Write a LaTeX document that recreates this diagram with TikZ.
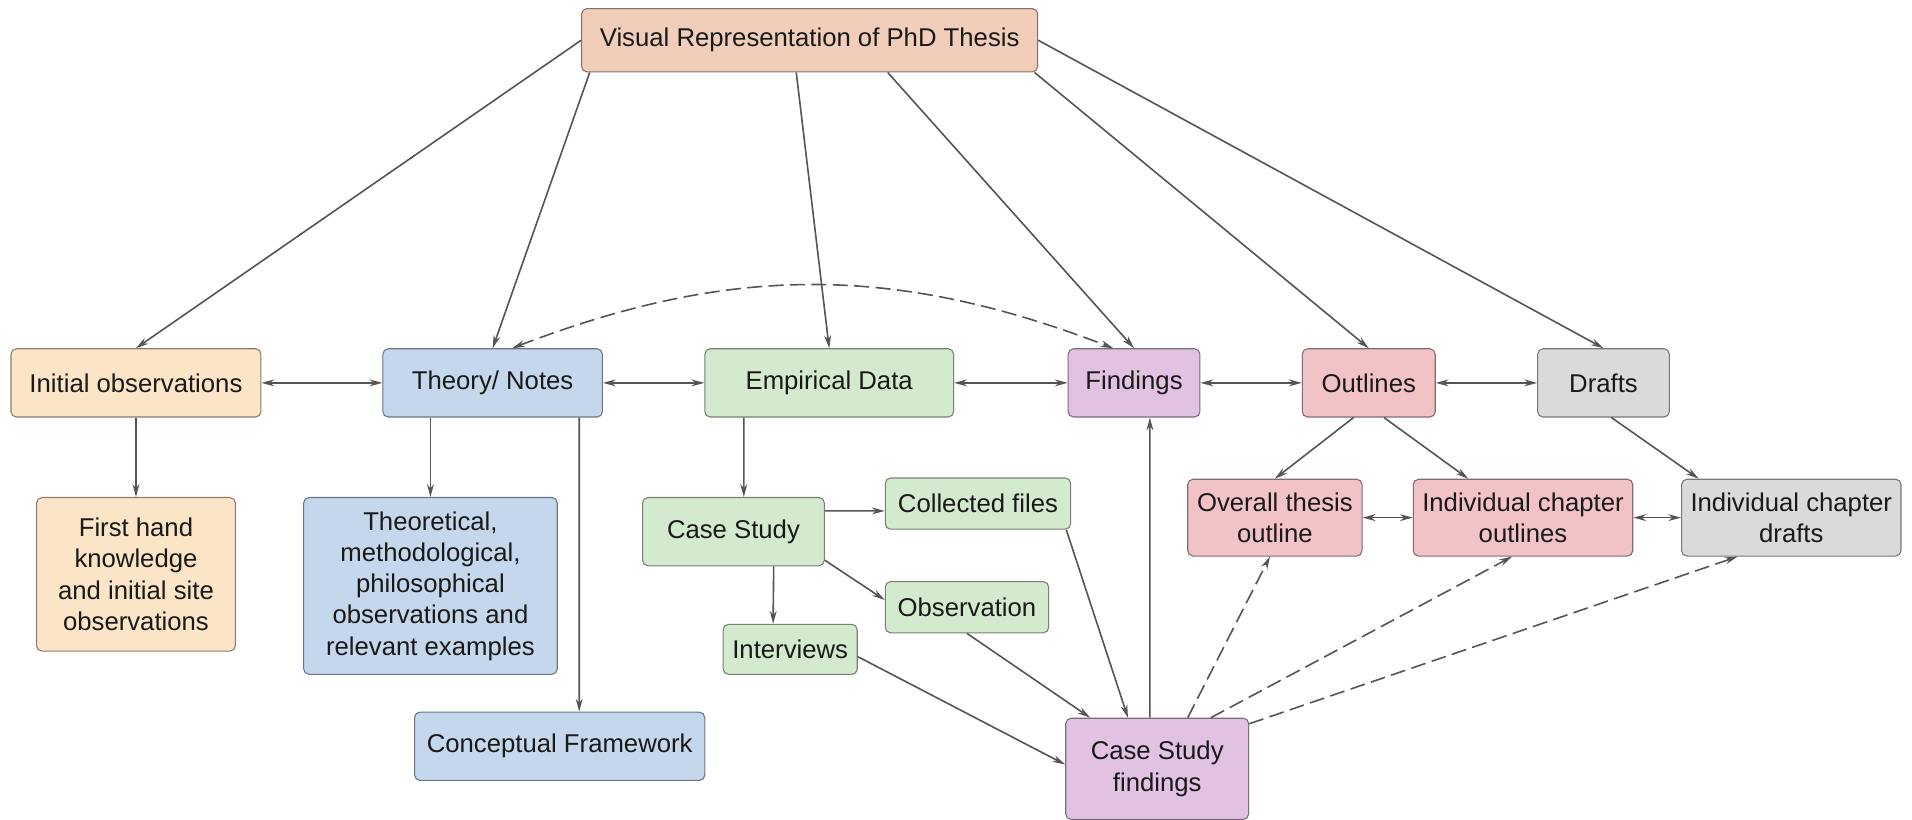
\documentclass[tikz,border=0pt]{standalone}
\usepackage{fontspec}
\setmainfont{Liberation Sans}
\usetikzlibrary{arrows.meta}
\definecolor{thesispeach}{RGB}{240,206,186}
\definecolor{obsorange}{RGB}{252,228,199}
\definecolor{notesblue}{RGB}{196,215,236}
\definecolor{datagreen}{RGB}{212,234,206}
\definecolor{findpurple}{RGB}{225,194,226}
\definecolor{outlpink}{RGB}{242,195,198}
\definecolor{draftgray}{RGB}{218,218,218}
\definecolor{linkgray}{RGB}{85,85,85}
\begin{document}
\begin{tikzpicture}[x=0.02cm,y=-0.02cm,>={Stealth[length=6pt,width=3.2pt]},
    box/.style={rectangle,rounded corners=2.5pt,line width=0.5pt,align=center,inner sep=2pt,
        text=black!90,font=\fontsize{12}{14.6}\selectfont},
    peachbox/.style={box,fill=thesispeach,draw=thesispeach!55!black},
    orangebox/.style={box,fill=obsorange,draw=obsorange!55!black},
    bluebox/.style={box,fill=notesblue,draw=notesblue!55!black},
    greenbox/.style={box,fill=datagreen,draw=datagreen!55!black},
    purplebox/.style={box,fill=findpurple,draw=findpurple!55!black},
    pinkbox/.style={box,fill=outlpink,draw=outlpink!55!black},
    graybox/.style={box,fill=draftgray,draw=draftgray!55!black},
    link/.style={draw=linkgray,line width=0.75pt},
    dashlink/.style={link,dash pattern=on 7pt off 3pt}]
\useasboundingbox (0,0) rectangle (1568,672);

\node[peachbox,minimum width=7.48cm,minimum height=1.04cm] (thesis) at (664,33) {Visual Representation of PhD Thesis};

\node[orangebox,minimum width=4.1cm,minimum height=1.12cm] (init) at (111.5,314) {Initial observations};
\node[bluebox,minimum width=3.6cm,minimum height=1.12cm] (theory) at (404,314) {Theory/ Notes};
\node[greenbox,minimum width=4.08cm,minimum height=1.12cm] (empir) at (680,314) {Empirical Data};
\node[purplebox,minimum width=2.16cm,minimum height=1.12cm] (find) at (930,314) {Findings};
\node[pinkbox,minimum width=2.18cm,minimum height=1.12cm] (outl) at (1122.5,314) {Outlines};
\node[graybox,minimum width=2.16cm,minimum height=1.12cm] (drafts) at (1315,314) {Drafts};

\node[orangebox,minimum width=3.26cm,minimum height=2.52cm] (first) at (111.5,471) {First hand\\knowledge\\and initial site\\observations};
\node[bluebox,minimum width=4.16cm,minimum height=2.9cm] (theo2) at (353,480.5) {Theoretical,\\methodological,\\philosophical\\observations and\\relevant examples};
\node[bluebox,minimum width=4.76cm,minimum height=1.12cm] (concept) at (459,612) {Conceptual Framework};

\node[greenbox,minimum width=2.98cm,minimum height=1.12cm] (casest) at (601.5,436) {Case Study};
\node[greenbox,minimum width=3.04cm,minimum height=0.84cm] (collect) at (802,413) {Collected files};
\node[greenbox,minimum width=2.68cm,minimum height=0.84cm] (observ) at (793,498) {Observation};
\node[greenbox,minimum width=2.2cm,minimum height=0.82cm] (interv) at (648,532.5) {Interviews};
\node[purplebox,minimum width=3cm,minimum height=1.66cm] (csfind) at (949,630.5) {Case Study\\findings};

\node[pinkbox,minimum width=2.86cm,minimum height=1.26cm] (overall) at (1045.5,424.5) {Overall thesis\\outline};
\node[pinkbox,minimum width=3.6cm,minimum height=1.26cm] (indout) at (1249,424.5) {Individual chapter\\outlines};
\node[graybox,minimum width=3.6cm,minimum height=1.26cm] (inddraft) at (1469,424.5) {Individual chapter\\drafts};

\draw[link,->] (thesis.west) -- (init.north);
\draw[link,->] ([xshift=0.14cm]thesis.south west) -- (theory.north);
\draw[link,->] ([xshift=-0.22cm]thesis.south) -- (empir.north);
\draw[link,->] ([xshift=1.28cm]thesis.south) -- (find.north);
\draw[link,->] ([xshift=-0.06cm]thesis.south east) -- (outl.north);
\draw[link,->] (thesis.east) -- (drafts.north);

\foreach \a/\b in {init/theory,theory/empir,empir/find,find/outl,outl/drafts,overall/indout,indout/inddraft}
    \draw[link,<->] (\a) -- (\b);
\draw[dashlink,<->] ([xshift=0.32cm]theory.north) to[bend left=21] ([xshift=-0.34cm]find.north);

\draw[link,->] (init) -- (first);
\draw[link,->] (theory.south -| theo2.north) -- (theo2.north);
\draw[link,->] ([xshift=1.42cm]theory.south) -- ([xshift=0.32cm]concept.north);
\draw[link,->] ([xshift=-1.4cm]empir.south) -- ([xshift=0.17cm]casest.north);

\draw[link,->] ([yshift=0.34cm]casest.east) -- ([yshift=-0.12cm]collect.west);
\draw[link,->] ([yshift=0.1cm]casest.south east) -- ([yshift=0.12cm]observ.west);
\draw[link,->] ([xshift=0.66cm]casest.south) -- ([xshift=-0.28cm]interv.north);
\draw[link,->] ([xshift=-0.08cm]collect.south east) -- ([xshift=-0.48cm]csfind.north);
\draw[link,->] (observ.south) -- ([xshift=-1.1cm]csfind.north);
\draw[link,->] ([yshift=-0.12cm]interv.east) -- ([yshift=0.07cm]csfind.west);
\draw[link,->] ([xshift=-0.12cm]csfind.north) -- ([xshift=0.26cm]find.south);

\draw[dashlink,->] ([xshift=0.5cm]csfind.north) -- ([xshift=-0.08cm]overall.south);
\draw[dashlink,->] ([xshift=0.88cm]csfind.north) -- ([xshift=-0.18cm]indout.south);
\draw[dashlink,->] ([yshift=-0.1cm]csfind.north east) -- ([xshift=-0.88cm]inddraft.south);

\draw[link,->] ([xshift=-0.25cm]outl.south) -- (overall.north);
\draw[link,->] ([xshift=0.25cm]outl.south) -- ([xshift=-0.9cm]indout.north);
\draw[link,->] ([xshift=0.13cm]drafts.south) -- ([xshift=-1.52cm]inddraft.north);
\end{tikzpicture}
\end{document}
